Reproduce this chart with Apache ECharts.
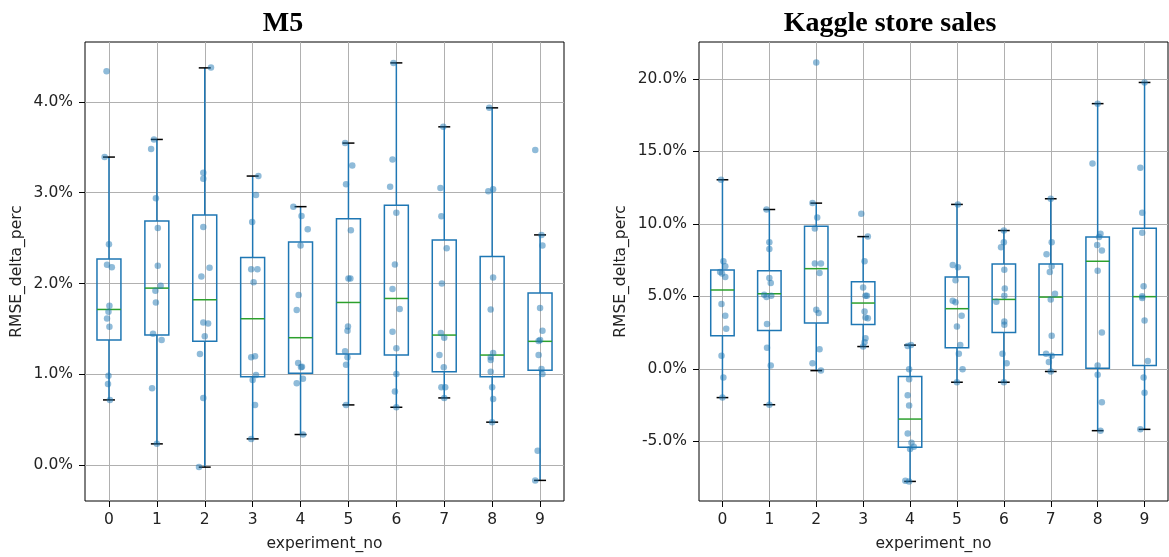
<!DOCTYPE html>
<html>
<head>
<meta charset="utf-8">
<script src="https://cdn.jsdelivr.net/npm/echarts@6/dist/echarts.min.js"></script>
<style>
  html, body { margin: 0; padding: 0; background: #fff; }
  #chart { width: 1169px; height: 557px; }
</style>
</head>
<body>
<div id="chart"></div>
<script>
// Experiment numbers shown on both x axes
const experiments = [0, 1, 2, 3, 4, 5, 6, 7, 8, 9];

// ---------------- M5 ----------------
const m5Ticks = [0, 1, 2, 3, 4];
const m5Range = [-0.395, 4.659];
// [lower whisker, Q1, median, Q3, upper whisker] in percent
const m5Boxes = [
  [0.718, 1.377, 1.714, 2.271, 3.392],
  [0.234, 1.432, 1.949, 2.689, 3.586],
  [-0.022, 1.363, 1.821, 2.755, 4.374],
  [0.289, 0.974, 1.612, 2.286, 3.183],
  [0.337, 1.011, 1.403, 2.458, 2.846],
  [0.663, 1.223, 1.791, 2.714, 3.546],
  [0.637, 1.212, 1.835, 2.861, 4.429],
  [0.740, 1.029, 1.432, 2.480, 3.725],
  [0.473, 0.974, 1.212, 2.297, 3.934],
  [-0.168, 1.044, 1.363, 1.894, 2.535]
];
// individual runs per experiment (percent)
const m5Points = [
  [4.337, 3.392, 2.432, 2.205, 2.179, 1.755, 1.689, 1.615, 1.524, 0.985, 0.894, 0.718],
  [3.586, 3.480, 2.938, 2.612, 2.194, 1.974, 1.919, 1.791, 1.447, 1.377, 0.846, 0.234],
  [4.377, 3.220, 3.154, 2.623, 2.172, 2.077, 1.571, 1.560, 1.418, 1.223, 0.740, -0.022],
  [3.183, 2.974, 2.678, 2.158, 2.158, 2.015, 1.198, 1.187, 0.993, 0.938, 0.663, 0.289],
  [2.846, 2.744, 2.597, 2.418, 1.872, 1.707, 1.125, 1.084, 1.077, 0.952, 0.901, 0.337],
  [3.546, 3.300, 3.092, 2.586, 2.055, 2.055, 1.527, 1.480, 1.253, 1.187, 1.106, 0.663],
  [4.429, 3.366, 3.066, 2.780, 2.209, 1.938, 1.718, 1.469, 1.286, 1.004, 0.810, 0.637],
  [3.725, 3.051, 2.740, 2.388, 2.000, 1.454, 1.403, 1.212, 1.077, 0.857, 0.857, 0.740],
  [3.934, 3.037, 3.015, 2.066, 1.714, 1.234, 1.187, 1.158, 1.029, 0.857, 0.729, 0.473],
  [3.469, 2.535, 2.418, 1.729, 1.480, 1.377, 1.366, 1.212, 1.059, 1.004, 0.158, -0.168]
];
// horizontal strip jitter of each run (in experiment units)
const m5Jitter = [
  [-0.05, -0.09, 0.00, -0.04, 0.06, 0.01, -0.01, -0.04, 0.01, -0.01, -0.02, 0.02],
  [-0.06, -0.12, -0.02, 0.02, 0.02, 0.08, -0.03, -0.02, -0.08, 0.10, -0.10, 0.00],
  [0.13, -0.03, -0.03, -0.03, 0.10, -0.07, -0.03, 0.07, 0.00, -0.10, -0.03, -0.12],
  [0.12, 0.07, -0.01, -0.03, 0.10, 0.02, 0.05, -0.03, 0.07, 0.00, 0.05, -0.03],
  [-0.15, 0.02, 0.15, 0.00, -0.04, -0.08, -0.05, 0.03, 0.01, 0.05, -0.08, 0.05],
  [-0.07, 0.08, -0.05, 0.05, 0.00, 0.04, -0.01, -0.02, -0.07, -0.02, -0.05, -0.05],
  [-0.06, -0.08, -0.13, 0.00, -0.03, -0.08, 0.07, -0.08, 0.00, 0.00, -0.03, 0.00],
  [-0.02, -0.08, -0.06, 0.05, -0.05, -0.07, 0.00, -0.10, -0.01, -0.06, 0.02, 0.00],
  [-0.06, 0.02, -0.08, 0.02, -0.03, 0.02, -0.03, -0.03, -0.03, 0.00, 0.02, 0.00],
  [-0.10, 0.03, 0.05, 0.00, 0.05, 0.00, -0.03, -0.03, 0.03, 0.05, -0.05, -0.10]
];

// ---------------- Kaggle store sales ----------------
const kaggleTicks = [-5, 0, 5, 10, 15, 20];
const kaggleRange = [-9.11, 22.54];
const kaggleBoxes = [
  [-1.98, 2.28, 5.44, 6.82, 13.04],
  [-2.47, 2.65, 5.18, 6.77, 10.99],
  [-0.12, 3.16, 6.91, 9.84, 11.43],
  [1.54, 3.06, 4.54, 6.01, 9.12],
  [-7.76, -5.41, -3.46, -0.53, 1.64],
  [-0.92, 1.45, 4.15, 6.34, 11.34],
  [-0.92, 2.51, 4.79, 7.24, 9.54],
  [-0.18, 0.97, 4.95, 7.24, 11.73],
  [-4.26, 0.05, 7.42, 9.10, 18.29],
  [-4.17, 0.23, 4.98, 9.70, 19.75]
];
const kagglePoints = [
  [13.04, 7.42, 7.07, 6.68, 6.57, 6.34, 4.47, 3.66, 2.76, 0.90, -0.60, -1.98],
  [10.99, 8.73, 8.27, 6.27, 5.92, 5.12, 5.05, 4.95, 3.09, 1.45, 0.23, -2.47],
  [21.13, 11.43, 10.44, 9.68, 7.26, 7.26, 6.61, 4.08, 3.85, 1.36, 0.39, -0.12],
  [10.69, 9.12, 7.42, 5.62, 5.05, 5.05, 3.96, 3.55, 3.50, 2.12, 1.84, 1.54],
  [1.64, 1.58, -0.02, -0.71, -1.82, -2.53, -4.45, -5.09, -5.37, -5.53, -7.72, -7.76],
  [11.34, 7.17, 7.00, 6.11, 4.70, 4.59, 3.66, 2.93, 1.64, 1.04, -0.02, -0.92],
  [9.54, 8.73, 8.39, 6.84, 5.55, 5.05, 4.63, 3.27, 3.04, 1.04, 0.39, -0.92],
  [11.73, 8.73, 7.90, 7.07, 6.68, 5.18, 4.79, 2.28, 1.04, 0.90, 0.48, -0.18],
  [18.29, 14.17, 9.31, 9.10, 8.55, 8.16, 6.77, 2.51, 0.23, -0.41, -2.30, -4.26],
  [19.75, 13.87, 10.76, 9.38, 5.69, 5.00, 4.88, 3.34, 0.55, -0.60, -1.64, -4.17]
];
const kaggleJitter = [
  [-0.03, 0.02, 0.06, -0.05, -0.01, 0.06, -0.02, 0.06, 0.08, -0.02, 0.02, 0.00],
  [-0.06, 0.00, 0.00, 0.00, 0.03, -0.11, 0.04, -0.06, -0.05, -0.05, 0.03, 0.00],
  [0.00, -0.08, 0.02, -0.03, -0.03, 0.10, 0.07, 0.00, 0.05, 0.07, -0.08, 0.10],
  [-0.04, 0.10, 0.03, 0.00, 0.05, 0.08, 0.03, 0.05, 0.10, 0.05, 0.03, 0.00],
  [0.02, -0.05, -0.02, -0.02, -0.05, -0.02, -0.05, 0.03, 0.08, 0.00, -0.10, -0.02],
  [0.02, -0.09, 0.02, -0.03, -0.09, -0.03, 0.10, 0.00, 0.07, 0.04, 0.12, 0.00],
  [0.00, 0.00, -0.06, 0.01, 0.02, 0.01, -0.16, 0.01, 0.01, -0.03, 0.06, 0.00],
  [0.00, 0.02, -0.09, 0.02, -0.02, 0.09, 0.00, 0.02, -0.10, 0.02, -0.04, 0.00],
  [0.00, -0.11, 0.06, 0.03, -0.01, 0.09, 0.00, 0.09, 0.00, 0.00, 0.09, 0.06],
  [0.00, -0.09, -0.05, -0.05, -0.02, -0.05, -0.05, 0.00, 0.07, -0.02, 0.00, -0.09]
];

const BLUE = '#1f77b4';
const GREEN = '#2ca02c';
const SANS = 'DejaVu Sans';
const TEXT = '#222';

// pandas-style box: blue box and whiskers, black caps, green median
function renderBox(params, api) {
  const i = api.value(0);
  const lo = api.coord([i, api.value(1)]);
  const q1 = api.coord([i, api.value(2)]);
  const md = api.coord([i, api.value(3)]);
  const q3 = api.coord([i, api.value(4)]);
  const hi = api.coord([i, api.value(5)]);
  const half = api.size([0.25, 0])[0];
  const cap = api.size([0.125, 0])[0];
  const x = lo[0];
  const seg = (x1, y1, x2, y2, color) => ({
    type: 'line',
    shape: { x1, y1, x2, y2 },
    style: { stroke: color, lineWidth: 1.5 }
  });
  return {
    type: 'group',
    children: [
      seg(x, q1[1], x, lo[1], BLUE),
      seg(x, q3[1], x, hi[1], BLUE),
      {
        type: 'rect',
        shape: { x: x - half, y: q3[1], width: 2 * half, height: q1[1] - q3[1] },
        style: { fill: 'none', stroke: BLUE, lineWidth: 1.5 }
      },
      seg(x - half, md[1], x + half, md[1], GREEN),
      seg(x - cap, lo[1], x + cap, lo[1], '#000'),
      seg(x - cap, hi[1], x + cap, hi[1], '#000')
    ]
  };
}

function xAxisFor(gridIndex) {
  return {
    type: 'value',
    gridIndex,
    min: -0.5,
    max: 9.5,
    name: 'experiment_no',
    nameLocation: 'middle',
    nameGap: 35,
    nameTextStyle: { fontFamily: SANS, fontSize: 15.5, color: TEXT },
    axisLine: { show: false, onZero: false },
    axisTick: { show: true, customValues: experiments, length: 6, lineStyle: { color: '#000', width: 1 } },
    axisLabel: {
      customValues: experiments, margin: 11,
      fontFamily: SANS, fontSize: 15.5, color: TEXT,
      formatter: v => String(v)
    },
    splitLine: { show: true, lineStyle: { color: '#b0b0b0', width: 1 } }
  };
}

function yAxisFor(gridIndex, range, ticks, nameGap) {
  return {
    type: 'value',
    gridIndex,
    min: range[0],
    max: range[1],
    name: 'RMSE_delta_perc',
    nameLocation: 'middle',
    nameRotate: 90,
    nameGap,
    nameTextStyle: { fontFamily: SANS, fontSize: 15.5, color: TEXT },
    axisLine: { show: false, onZero: false },
    axisTick: { show: true, customValues: ticks, length: 6, lineStyle: { color: '#000', width: 1 } },
    axisLabel: {
      customValues: ticks, margin: 12,
      fontFamily: SANS, fontSize: 15.5, color: TEXT,
      formatter: v => v.toFixed(1) + '%'
    },
    splitLine: { show: true, lineStyle: { color: '#b0b0b0', width: 1 } }
  };
}

function boxData(boxes) {
  return boxes.map((b, i) => [experiments[i], ...b]);
}

function pointData(points, jitter) {
  const out = [];
  points.forEach((row, i) => {
    row.forEach((v, j) => out.push([experiments[i] + jitter[i][j], v]));
  });
  return out;
}

function seriesFor(idx, boxes, points, jitter) {
  return [
    {
      type: 'custom',
      xAxisIndex: idx,
      yAxisIndex: idx,
      renderItem: renderBox,
      encode: { x: 0, y: [1, 2, 3, 4, 5] },
      data: boxData(boxes),
      z: 2,
      silent: true
    },
    {
      type: 'scatter',
      xAxisIndex: idx,
      yAxisIndex: idx,
      symbol: 'circle',
      symbolSize: 6.5,
      itemStyle: { color: BLUE, opacity: 0.5 },
      data: pointData(points, jitter),
      z: 3,
      silent: true
    }
  ];
}

const chart = echarts.init(document.getElementById('chart'), null, { renderer: 'canvas' });
chart.setOption({
  animation: false,
  backgroundColor: '#fff',
  title: [
    {
      text: 'M5', left: 278, top: 5, textAlign: 'center',
      textStyle: { fontFamily: 'Liberation Serif', fontWeight: 'bold', fontSize: 28, color: '#000' }
    },
    {
      text: 'Kaggle store sales', left: 885, top: 5, textAlign: 'center',
      textStyle: { fontFamily: 'Liberation Serif', fontWeight: 'bold', fontSize: 28, color: '#000' }
    }
  ],
  grid: [
    { left: 85, top: 42, width: 479, height: 460, show: true, borderColor: '#000', borderWidth: 1, backgroundColor: 'transparent', containLabel: false },
    { left: 699, top: 42, width: 469, height: 460, show: true, borderColor: '#000', borderWidth: 1, backgroundColor: 'transparent', containLabel: false }
  ],
  xAxis: [xAxisFor(0), xAxisFor(1)],
  yAxis: [yAxisFor(0, m5Range, m5Ticks, 60), yAxisFor(1, kaggleRange, kaggleTicks, 70)],
  series: [
    ...seriesFor(0, m5Boxes, m5Points, m5Jitter),
    ...seriesFor(1, kaggleBoxes, kagglePoints, kaggleJitter)
  ]
});
</script>
</body>
</html>
